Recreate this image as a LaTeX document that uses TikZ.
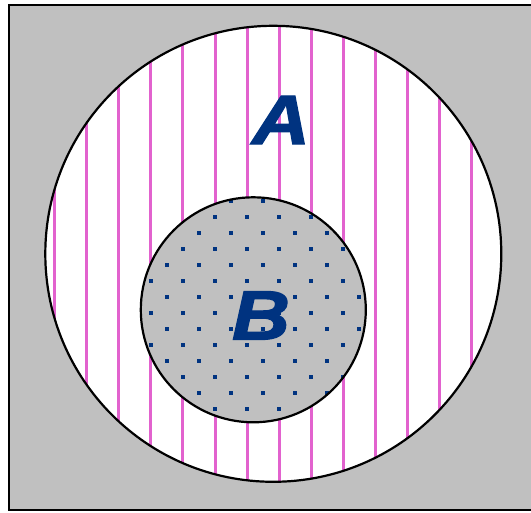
\documentclass[tikz,border=0pt]{standalone}
\usepackage{fontspec}
\setmainfont{Liberation Sans}
\newfontfamily\heavyfont[FakeBold=1.6]{Liberation Sans Bold Italic}
\definecolor{bggray}{RGB}{192,192,192}
\definecolor{stripe}{RGB}{226,98,206}
\definecolor{navy}{RGB}{0,51,128}
\tikzset{
  frame/.style={fill=bggray,draw=black,line width=2pt},
  setline/.style={draw=black,line width=2.2pt},
  stripeline/.style={draw=stripe,line width=3pt},
  dotmark/.style={fill=navy},
  setlabel/.style={text=navy,font=\fontsize{70}{70}\heavyfont,inner sep=0pt,xscale=1.15}
}
\begin{document}
\begin{tikzpicture}[x=1pt,y=-1pt]
\useasboundingbox (0,0) rectangle (531,513);
% background frame
\fill[white] (0,0) rectangle (531,513);
\draw[frame] (9,5) rectangle (545,510);
% outer set A
\coordinate (cA) at (273.3,253.8);
\coordinate (cB) at (253.3,309.8);
\fill[white] (cA) circle[radius=228];
\begin{scope}
  \clip (cA) circle[radius=228];
  \foreach \k in {0,...,13} {
    \draw[stripeline] ({54.5+32.1*\k},0) -- ({54.5+32.1*\k},513);
  }
\end{scope}
\draw[setline] (cA) circle[radius=228];
% inner set B
\fill[bggray] (cB) circle[radius=112.5];
\begin{scope}
  \clip (cB) circle[radius=112.5];
  \foreach \m in {-6,...,9} {
    \foreach \j in {-1,...,8} {
      \pgfmathsetmacro\xx{151+32*\j+16*mod(abs(\m),2)}
      \pgfmathsetmacro\yy{281+16*\m}
      \fill[dotmark] (\xx-1.7,\yy-1.7) rectangle (\xx+1.7,\yy+1.7);
    }
  }
\end{scope}
\draw[setline] (cB) circle[radius=112.5];
% labels
\node[setlabel] (labA) at (281,120) {A};
\node[setlabel] (labB) at (261,315.5) {B};
\end{tikzpicture}
\end{document}
